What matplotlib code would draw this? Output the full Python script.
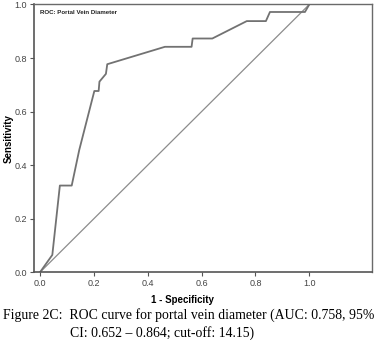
import numpy as np
import matplotlib
matplotlib.use("Agg")
import matplotlib.pyplot as plt

# ROC curve points (1 - specificity, sensitivity)
fpr = [0.0, 0.046, 0.074, 0.118, 0.146, 0.202, 0.218, 0.221, 0.245, 0.250,
       0.464, 0.563, 0.567, 0.640, 0.768, 0.839, 0.854, 0.984, 1.0]
tpr = [0.0, 0.065, 0.324, 0.324, 0.457, 0.677, 0.677, 0.712, 0.741, 0.777,
       0.842, 0.842, 0.873, 0.873, 0.938, 0.938, 0.972, 0.972, 1.0]
ref_line = [0.0, 1.0]
ticks = [0.0, 0.2, 0.4, 0.6, 0.8, 1.0]
tick_labels = ["0.0", "0.2", "0.4", "0.6", "0.8", "1.0"]

plt.rcParams["font.family"] = ["Liberation Sans", "DejaVu Sans"]

fig = plt.figure(figsize=(3.77, 3.40), dpi=100)
ax = fig.add_axes([0.0902, 0.199, 0.8966, 0.7878])

# diagonal reference line and ROC curve
ax.plot(ref_line, ref_line, color="#8c8c8c", linewidth=0.9)
ax.plot(fpr, tpr, color="#727272", linewidth=1.3)

ax.set_xlim(-0.022, 1.233)
ax.set_ylim(0.0, 1.0)
ax.set_xticks(ticks)
ax.set_xticklabels(tick_labels)
ax.set_yticks(ticks)
ax.set_yticklabels(tick_labels)
ax.tick_params(labelsize=6.5, length=3, width=0.8, colors="#555555",
               labelcolor="#444444", pad=2)

for side in ["top", "right"]:
    ax.spines[side].set_color("#6a6a6a")
    ax.spines[side].set_linewidth(1.0)
for side in ["left", "bottom"]:
    ax.spines[side].set_color("#555555")
    ax.spines[side].set_linewidth(1.2)

ax.text(0.018, 0.97, "ROC: Portal Vein Diameter", transform=ax.transAxes,
        fontsize=4.4, fontweight="bold", color="#222222", va="center", ha="left")

ax.set_ylabel("Sensitivity", fontsize=7, fontweight="bold")
ax.yaxis.set_label_coords(-0.06, 0.5)
ax.set_xlabel("1 - Specificity", fontsize=7, fontweight="bold")
ax.xaxis.set_label_coords(0.438, -0.083)

cap_font = ["Liberation Serif", "DejaVu Serif"]
fig.text(0.008, 0.073, "Figure 2C:  ROC curve for portal vein diameter (AUC: 0.758, 95%",
         fontsize=9.9, family=cap_font, ha="left", va="center")
fig.text(0.185, 0.02, "CI: 0.652 \u2013 0.864; cut-off: 14.15)",
         fontsize=9.9, family=cap_font, ha="left", va="center")

fig.savefig("out.png", dpi=100)
